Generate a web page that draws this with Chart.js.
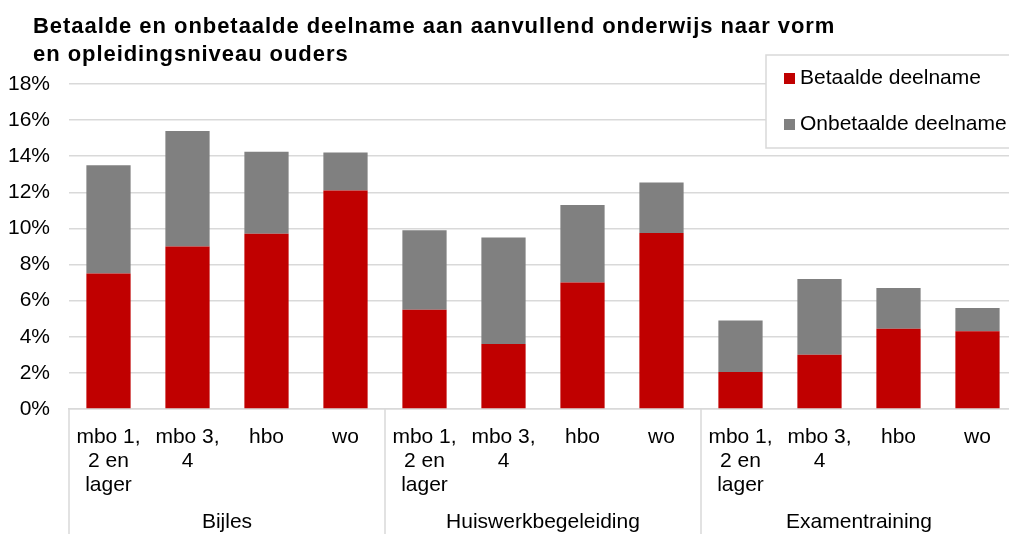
<!DOCTYPE html>
<html lang="nl">
<head>
    <meta charset="UTF-8">
    <title>Betaalde en onbetaalde deelname aan aanvullend onderwijs</title>
    <script src="https://cdn.jsdelivr.net/npm/chart.js"></script>
    <style>
        html, body { margin: 0; padding: 0; background: #fff; overflow: hidden; }
        .wrap { position: relative; width: 1020px; height: 534px; }
    </style>
</head>
<body>
    <div class="wrap"><canvas id="chart"></canvas></div>

    <script>
        const titleLines = [
            'Betaalde en onbetaalde deelname aan aanvullend onderwijs naar vorm',
            'en opleidingsniveau ouders'
        ];
        const groups = ['Bijles', 'Huiswerkbegeleiding', 'Examentraining'];
        const levels = [['mbo 1,', '2 en', 'lager'], ['mbo 3,', '4'], 'hbo', 'wo'];
        const seriesNames = ['Betaalde deelname', 'Onbetaalde deelname'];
        const betaald   = [7.5, 9.0, 9.7, 12.1, 5.5, 3.6, 7.0, 9.75, 2.05, 3.0, 4.45, 4.3];
        const onbetaald = [6.0, 6.4, 4.55, 2.1, 4.4, 5.9, 4.3, 2.8, 2.85, 4.2, 2.25, 1.3];
        const yMax = 18;
        const yStep = 2;

        const FONT = "'Liberation Sans', Arial, sans-serif";
        Chart.defaults.font.family = FONT;
        Chart.defaults.font.size = 21;
        Chart.defaults.color = '#000';

        // 12 categories: each group repeats the four levels
        const labels = [];
        groups.forEach(() => levels.forEach(l => labels.push(l)));

        const gridColor = '#d9d9d9';

        // title, legend box and group labels drawn on the canvas
        const extras = {
            id: 'extras',
            afterDraw(chart) {
                const ctx = chart.ctx;
                const x = chart.scales.x;
                const area = chart.chartArea;
                ctx.save();

                // title
                ctx.fillStyle = '#000';
                ctx.font = 'bold 22px ' + FONT;
                ctx.letterSpacing = '0.95px';
                ctx.textBaseline = 'alphabetic';
                ctx.textAlign = 'left';
                titleLines.forEach((t, i) => ctx.fillText(t, 33, 33 + i * 27.5));
                ctx.letterSpacing = '0px';

                // group separators + labels
                const step = x.getPixelForValue(1) - x.getPixelForValue(0);
                ctx.strokeStyle = gridColor;
                ctx.lineWidth = 1.5;
                ctx.font = '21px ' + FONT;
                ctx.textBaseline = 'middle';
                ctx.textAlign = 'center';
                groups.forEach((g, i) => {
                    const first = x.getPixelForValue(i * levels.length);
                    const last = x.getPixelForValue(i * levels.length + levels.length - 1);
                    const left = first - step / 2;
                    ctx.beginPath();
                    ctx.moveTo(left, area.bottom);
                    ctx.lineTo(left, chart.height);
                    ctx.stroke();
                    ctx.fillText(g, (first + last) / 2, 522);
                });

                // legend
                const lx = 766, ly = 55, lw = 300, lh = 93;
                ctx.fillStyle = '#fff';
                ctx.fillRect(lx, ly, lw, lh);
                ctx.strokeRect(lx, ly, lw, lh);
                ctx.textAlign = 'left';
                chart.data.datasets.forEach((ds, i) => {
                    const cy = 78.5 + i * 46;
                    ctx.fillStyle = ds.backgroundColor;
                    ctx.fillRect(784, cy - 5.5, 11, 11);
                    ctx.fillStyle = '#000';
                    ctx.fillText(ds.label, 800, cy);
                });
                ctx.restore();
            }
        };

        new Chart(document.getElementById('chart'), {
            type: 'bar',
            data: {
                labels: labels,
                datasets: [
                    { label: seriesNames[0], data: betaald, backgroundColor: '#c00000' },
                    { label: seriesNames[1], data: onbetaald, backgroundColor: '#808080' }
                ]
            },
            options: {
                responsive: true,
                maintainAspectRatio: false,
                animation: false,
                layout: { padding: { top: 84, left: 8, right: 3, bottom: 36 } },
                datasets: { bar: { categoryPercentage: 1, barPercentage: 0.56 } },
                plugins: {
                    legend: { display: false },
                    title: { display: false },
                    tooltip: { enabled: false }
                },
                scales: {
                    x: {
                        stacked: true,
                        grid: { display: false, drawTicks: false, tickLength: 0 },
                        border: { display: true, color: gridColor, width: 1.5 },
                        ticks: { padding: 16, maxRotation: 0, autoSkip: false, font: { lineHeight: 1.15 } },
                        afterFit: s => { s.height = 89; }
                    },
                    y: {
                        stacked: true,
                        min: 0,
                        max: yMax,
                        border: { display: false },
                        grid: { color: gridColor, lineWidth: 1.5, drawTicks: false, tickLength: 0 },
                        ticks: { stepSize: yStep, padding: 19, callback: v => v + '%' },
                        afterFit: s => { s.width = 61; }
                    }
                }
            },
            plugins: [extras]
        });
    </script>
</body>
</html>
